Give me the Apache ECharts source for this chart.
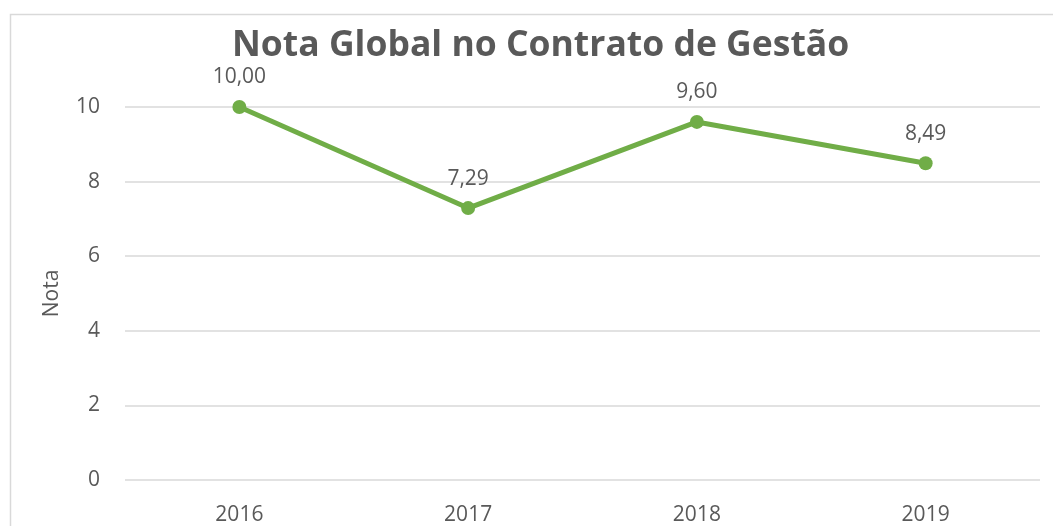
<!DOCTYPE html>
<html>
<head>
<meta charset="utf-8">
<script src="https://cdn.jsdelivr.net/npm/echarts@6/dist/echarts.min.js"></script>
<style>
  html, body { margin: 0; padding: 0; background: #fff; }
  #chart { width: 1053px; height: 526px; }
</style>
</head>
<body>
<div id="chart"></div>
<script>
const years = ['2016', '2017', '2018', '2019'];
const notas = [10.0, 7.29, 9.6, 8.49];

const textColor = '#595959';
const font = '"Open Sans", "Noto Sans", sans-serif';

const chart = echarts.init(document.getElementById('chart'));
chart.setOption({
  animation: false,
  textStyle: { fontFamily: font },
  title: {
    text: 'Nota Global no Contrato de Gestão',
    left: 227,
    top: 23,
    textStyle: { fontSize: 35.5, fontWeight: 'bold', color: textColor, fontFamily: font }
  },
  graphic: [{
    type: 'rect',
    shape: { x: 10.5, y: 14.5, width: 1100, height: 600 },
    style: { fill: 'none', stroke: '#d9d9d9', lineWidth: 1.5 },
    silent: true
  }],
  grid: { left: 125, right: 13, top: 107, bottom: 45 },
  xAxis: {
    type: 'category',
    data: years,
    boundaryGap: true,
    axisLine: { show: false },
    axisTick: { show: false },
    axisLabel: { color: textColor, fontSize: 21, margin: 25 }
  },
  yAxis: {
    type: 'value',
    min: 0,
    max: 10,
    interval: 2,
    name: 'Nota',
    nameLocation: 'middle',
    nameRotate: 90,
    nameGap: 62,
    nameTextStyle: { color: textColor, fontSize: 21 },
    axisLine: { show: false },
    axisTick: { show: false },
    axisLabel: { color: textColor, fontSize: 21, margin: 25 },
    splitLine: { lineStyle: { color: '#d9d9d9', width: 1.5 } }
  },
  series: [{
    type: 'line',
    data: notas,
    symbol: 'circle',
    symbolSize: 14,
    lineStyle: { color: '#70ad47', width: 5 },
    itemStyle: { color: '#70ad47' },
    label: {
      show: true,
      position: 'top',
      distance: 12,
      color: textColor,
      fontSize: 21,
      formatter: p => p.value.toFixed(2).replace('.', ',')
    }
  }]
});
</script>
</body>
</html>
